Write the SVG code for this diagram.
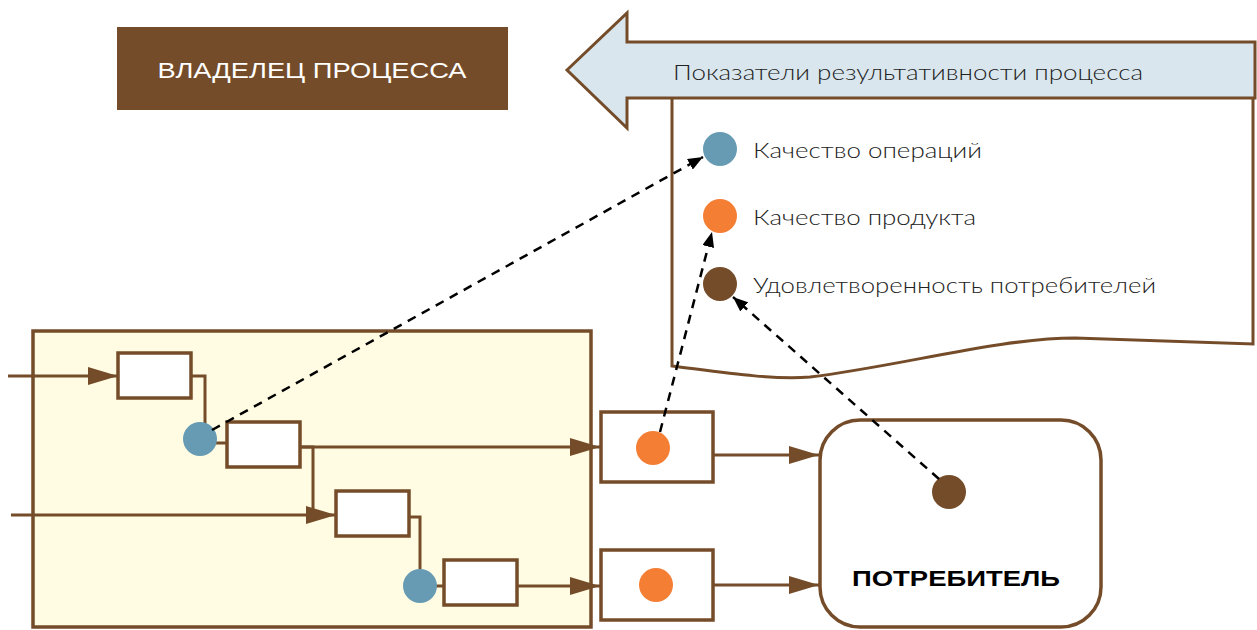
<svg xmlns="http://www.w3.org/2000/svg" width="1257" height="630" viewBox="0 0 1257 630">
  <style>
    .flow { fill: none; stroke: #754C29; stroke-width: 3; }
    .box { fill: #FFFFFF; stroke: #754C29; stroke-width: 3.5; }
    .dash { fill: none; stroke: #000; stroke-width: 2.5; stroke-dasharray: 9 7; }
    .lbl { font-family: "Lato", "Liberation Sans", sans-serif; font-weight: 300; font-size: 22px; fill: #222; }
    .cap { font-family: "Liberation Sans", "DejaVu Sans", sans-serif; font-size: 22px; }
    .blue { fill: #669BB3; }
    .orange { fill: #F57E35; }
    .brown { fill: #754C29; }
  </style>
  <defs>
    <marker id="flowhead" markerUnits="userSpaceOnUse" markerWidth="32" markerHeight="18" refX="30" refY="9" orient="auto">
      <path d="M0,0 L30,9 L0,18 Z" fill="#754C29"/>
    </marker>
    <marker id="dashhead" markerUnits="userSpaceOnUse" markerWidth="16" markerHeight="12" refX="15" refY="6" orient="auto">
      <path d="M0,0 L15,6 L0,12 Z" fill="#000"/>
    </marker>
  </defs>

  <!-- process owner banner -->
  <g id="owner">
    <rect x="117" y="27" width="391" height="83" fill="#754C29"/>
    <text class="cap" x="312" y="78" text-anchor="middle" fill="#FFFFFF" textLength="309" lengthAdjust="spacingAndGlyphs">ВЛАДЕЛЕЦ ПРОЦЕССА</text>
  </g>

  <!-- indicator sheet -->
  <g id="indicators">
    <path d="M672,96 L672,366 C720,372 770,380 810,377 C900,366 1000,338 1075,338 L1253,344 L1253,96" fill="#FFFFFF" stroke="#754C29" stroke-width="3"/>
    <circle class="blue" cx="720" cy="149" r="17"/>
    <text class="lbl" x="753" y="158" textLength="229" lengthAdjust="spacingAndGlyphs">Качество операций</text>
    <circle class="orange" cx="720" cy="216" r="17"/>
    <text class="lbl" x="753" y="225" textLength="223" lengthAdjust="spacingAndGlyphs">Качество продукта</text>
    <circle class="brown" cx="720" cy="284" r="17"/>
    <text class="lbl" x="753" y="293" textLength="403" lengthAdjust="spacingAndGlyphs">Удовлетворенность потребителей</text>
  </g>

  <!-- indicators arrow -->
  <g id="indicators-arrow">
    <path d="M567,70 L627,13 L627,42 L1255,42 L1255,98 L627,98 L627,128 Z" fill="#D9E6EE" stroke="#754C29" stroke-width="3" stroke-linejoin="miter"/>
    <text class="lbl" x="673" y="80" textLength="470" lengthAdjust="spacingAndGlyphs">Показатели результативности процесса</text>
  </g>

  <!-- process area -->
  <g id="process">
    <rect x="33" y="331" width="558" height="296" fill="#FFFCE3" stroke="#754C29" stroke-width="3.5"/>
  </g>

  <!-- material flow connectors -->
  <g id="connectors">
    <line class="flow" x1="8" y1="376" x2="118" y2="376" marker-end="url(#flowhead)"/>
    <polyline class="flow" points="191,376 205,376 205,424"/>
    <line class="flow" x1="214" y1="443" x2="227" y2="443"/>
    <line class="flow" x1="300" y1="447" x2="600" y2="447" marker-end="url(#flowhead)"/>
    <polyline class="flow" points="300,447 313,447 313,515"/>
    <line class="flow" x1="11" y1="515" x2="336" y2="515" marker-end="url(#flowhead)"/>
    <polyline class="flow" points="409,517 420,517 420,569"/>
    <line class="flow" x1="435" y1="586" x2="444" y2="586"/>
    <line class="flow" x1="517" y1="586" x2="600" y2="586" marker-end="url(#flowhead)"/>
    <line class="flow" x1="713" y1="455" x2="819" y2="455" marker-end="url(#flowhead)"/>
    <line class="flow" x1="713" y1="585" x2="819" y2="585" marker-end="url(#flowhead)"/>
  </g>

  <!-- operations -->
  <g id="op1"><rect class="box" x="118" y="353" width="73" height="45"/></g>
  <g id="op2"><rect class="box" x="227" y="422" width="73" height="45"/></g>
  <g id="op3"><rect class="box" x="336" y="491" width="73" height="45"/></g>
  <g id="op4"><rect class="box" x="444" y="560" width="73" height="45"/></g>

  <!-- operation quality checkpoints -->
  <g id="check1"><circle class="blue" cx="200" cy="439" r="17"/></g>
  <g id="check2"><circle class="blue" cx="420" cy="586" r="17"/></g>

  <!-- products -->
  <g id="product1">
    <rect class="box" x="601" y="412" width="112" height="70"/>
    <circle class="orange" cx="653" cy="448" r="17"/>
  </g>
  <g id="product2">
    <rect class="box" x="601" y="550" width="112" height="70"/>
    <circle class="orange" cx="656" cy="585" r="17"/>
  </g>

  <!-- consumer -->
  <g id="consumer">
    <rect x="820" y="420" width="281" height="207" rx="40" ry="40" fill="#FFFFFF" stroke="#754C29" stroke-width="3.5"/>
    <circle class="brown" cx="949" cy="492" r="17"/>
    <text class="cap" x="956" y="586" text-anchor="middle" font-weight="bold" fill="#000" textLength="208" lengthAdjust="spacingAndGlyphs">ПОТРЕБИТЕЛЬ</text>
  </g>

  <!-- measurement links, drawn over the nodes -->
  <g id="measure-links">
    <line class="dash" x1="212" y1="430" x2="703" y2="157" marker-end="url(#dashhead)"/>
    <line class="dash" x1="660" y1="432" x2="712" y2="232" marker-end="url(#dashhead)"/>
    <line class="dash" x1="939" y1="479" x2="733" y2="297" marker-end="url(#dashhead)"/>
  </g>
</svg>
